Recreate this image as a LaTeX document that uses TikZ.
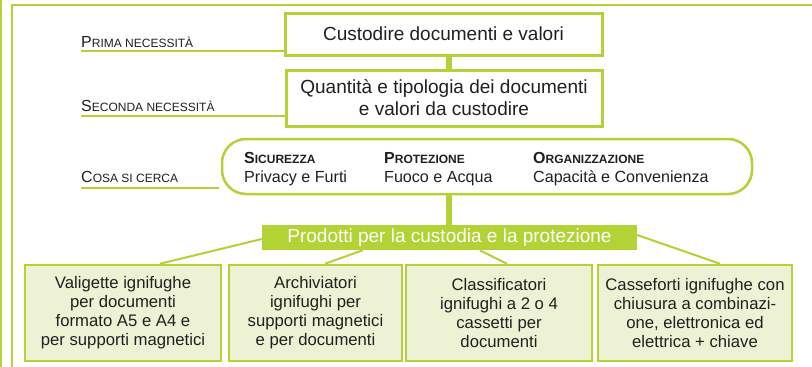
\documentclass[tikz,border=0pt]{standalone}
\usepackage{fontspec}
\setmainfont{Liberation Sans}
\usetikzlibrary{calc}
\definecolor{lime}{HTML}{B2D235}
\definecolor{pale}{HTML}{EDF2D5}
\definecolor{ink}{HTML}{231F20}
\newcommand{\sctext}[3][]{{#1\fontsize{16}{16}\selectfont #2\fontsize{12}{12}\selectfont #3}}
\begin{document}
\begin{tikzpicture}[x=1pt,y=-1pt,
  topbox/.style={draw=lime,line width=3pt,fill=white,text=ink,align=center,inner sep=0pt},
  prodbox/.style={draw=lime,line width=2.5pt,fill=pale,text=ink,align=center,inner sep=0pt,
    minimum height=96pt,font=\fontsize{16.7}{19}\selectfont},
  capsule/.style={draw=lime,line width=2.5pt,fill=white,rounded corners=24pt,inner sep=0pt},
  banner/.style={fill=lime,text=white,inner sep=0pt,minimum width=375pt,minimum height=25pt,
    font=\fontsize{19}{19}\selectfont},
  lbl/.style={anchor=base west,inner sep=0pt,text=ink},
  capt/.style={anchor=base west,inner sep=0pt,text=ink,font=\fontsize{16.1}{19}\selectfont},
  uline/.style={draw=lime,line width=2pt},
  thick link/.style={draw=lime,line width=6pt},
  thin link/.style={draw=lime,line width=2pt},
  frame/.style={draw=lime,line width=2pt}]
\useasboundingbox (0,0) rectangle (812,367);
% frame
\draw[frame] (1,0) -- (1,367);
\draw[frame] (12,367) -- (12,5) -- (812,5);
% connectors (behind boxes)
\coordinate (c1) at (449,55);
\coordinate (c2) at (449,126);
\coordinate (c3) at (449,139);
\coordinate (c4) at (449,194);
\coordinate (c5) at (449,225);
\draw[thick link] (c1) -- (c2);
\draw[thick link] (c3) -- (c4) -- (c5);
% top boxes
\node[topbox,minimum width=317pt,minimum height=42pt,font=\fontsize{19}{22}\selectfont] (b1) at (443.5,34) {Custodire documenti e valori};
\node[topbox,minimum width=316pt,minimum height=56pt,font=\fontsize{19}{22}\selectfont] (b2) at (444,98) {Quantità e tipologia dei documenti\\e valori da custodire};
\node[capsule,minimum width=530pt,minimum height=55pt] (cap) at (487,166.5) {};
% labels
\node[lbl] (l1t) at (81,47) {\sctext{P}{RIMA NECESSITÀ}};
\node[lbl] (l2t) at (81,111) {\sctext{S}{ECONDA NECESSITÀ}};
\node[lbl] (l3t) at (81,182) {\sctext{C}{OSA SI CERCA}};
\coordinate (u1) at (81,51);
\coordinate (u2) at (81,116);
\coordinate (u3) at (81,188);
\coordinate (u3e) at (219,188);
\draw[uline] (u1) -- (u1 -| b1.west);
\draw[uline] (u2) -- (u2 -| b2.west);
\draw[uline] (u3) -- (u3e);
% capsule content
\node[capt] (s1) at (244,163) {\sctext[\bfseries]{S}{ICUREZZA}};
\node[capt] (s2) at (244,182) {Privacy e Furti};
\node[capt] (p1) at (384,163) {\sctext[\bfseries]{P}{ROTEZIONE}};
\node[capt] (p2) at (384,182) {Fuoco e Acqua};
\node[capt] (o1) at (533,163) {\sctext[\bfseries]{O}{RGANIZZAZIONE}};
\node[capt] (o2) at (533,182) {Capacità e Convenienza};
% banner
\node[banner] (ban) at (449.5,237.5) {Prodotti per la custodia e la protezione};
% product boxes
\node[prodbox,minimum width=196pt] (pa) at (123,313) {Valigette ignifughe\\per documenti\\formato A5 e A4 e\\per supporti magnetici};
\node[prodbox,minimum width=173pt] (pb) at (315.5,313) {Archiviatori\\ignifughi per\\supporti magnetici\\e per documenti};
\node[prodbox,minimum width=186pt] (pc) at (499,313) {Classificatori\\ignifughi a 2 o 4\\cassetti per\\documenti};
\node[prodbox,minimum width=194pt] (pd) at (695,313) {Casseforti ignifughe con\\chiusura a combinazi-\\one, elettronica ed\\elettrica + chiave};
% links banner -> products
\draw[thin link] ([yshift=-1.5pt]ban.west) -- ([xshift=37pt]pa.north);
\draw[thin link] ([xshift=101pt]ban.south west) -- ([xshift=9.5pt]pb.north);
\draw[thin link] ([xshift=218pt]ban.south west) -- ([xshift=8pt]pc.north);
\draw[thin link] ([yshift=2.5pt]ban.east) -- ([xshift=25pt]pd.north);
\end{tikzpicture}
\end{document}
